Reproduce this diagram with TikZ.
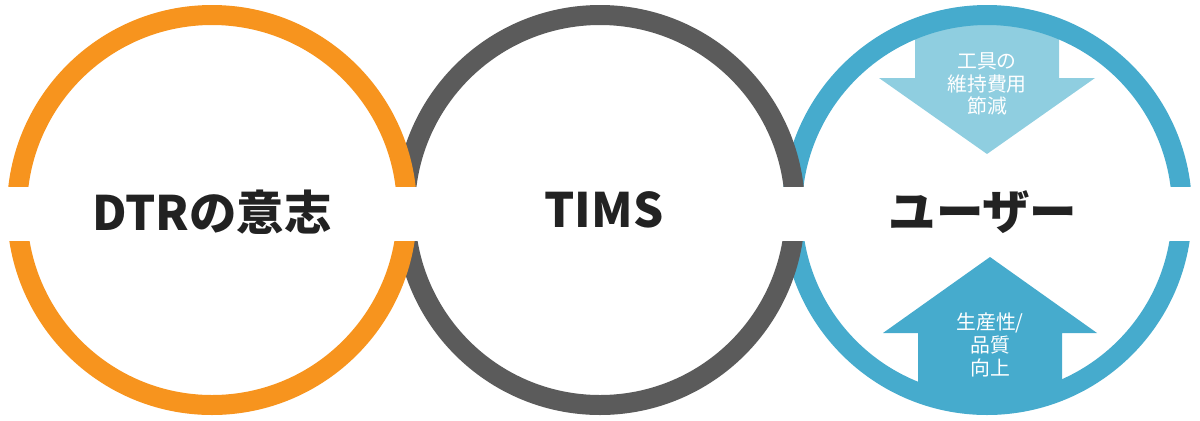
\documentclass[tikz,border=0pt]{standalone}
\usepackage{fontspec}
\newfontfamily\jpfont{Noto Sans CJK JP}
\definecolor{dtrorange}{HTML}{F7941E}
\definecolor{timsgray}{HTML}{5B5B5B}
\definecolor{userblue}{HTML}{46ABCD}
\definecolor{userlight}{HTML}{8FCEE0}
\definecolor{labelblack}{HTML}{222222}

\begin{document}
\begin{tikzpicture}[x=0.02cm,y=-0.02cm,
  ring/.style={line width=0.4cm},
  title/.style={anchor=base,inner sep=0pt,
    font=\jpfont\bfseries\fontsize{27}{30}\selectfont,text=labelblack},
  arrowtext/.style={inner sep=0pt,align=center,text=white,
    font=\jpfont\fontsize{11.3}{13}\selectfont}]
  \useasboundingbox (0,0) rectangle (1200,420);
  % arrows inside the user circle, cut at the ring
  \begin{scope}
    \clip (987,210) circle (195);
    \fill[userlight] (915,0) -- (915,78) -- (879,78) -- (987,154)
      -- (1095,78) -- (1059,78) -- (1059,0) -- cycle;
    \fill[userblue] (990,257) -- (1097,333) -- (1062,333) -- (1062,420)
      -- (918,420) -- (918,333) -- (883,333) -- cycle;
  \end{scope}
  % the three rings, right one at the back
  \draw[ring,userblue] (987,210) circle (195);
  \draw[ring,timsgray] (600,210) circle (195);
  \draw[ring,dtrorange] (212,210) circle (195);
  % white band through the middle
  \fill[white] (0,187) rectangle (1200,241);
  \node[title] (dtr) at (212,230) {DTRの意志};
  \node[title] (tims) at (604,227) {TIMS};
  \node[title] (user) at (983,229) {ユーザー};
  \node[arrowtext] (cost) at (987,84) {工具の\\維持費用\\節減};
  \node[arrowtext] (gain) at (990,345) {生産性/\\品質\\向上};
\end{tikzpicture}
\end{document}
